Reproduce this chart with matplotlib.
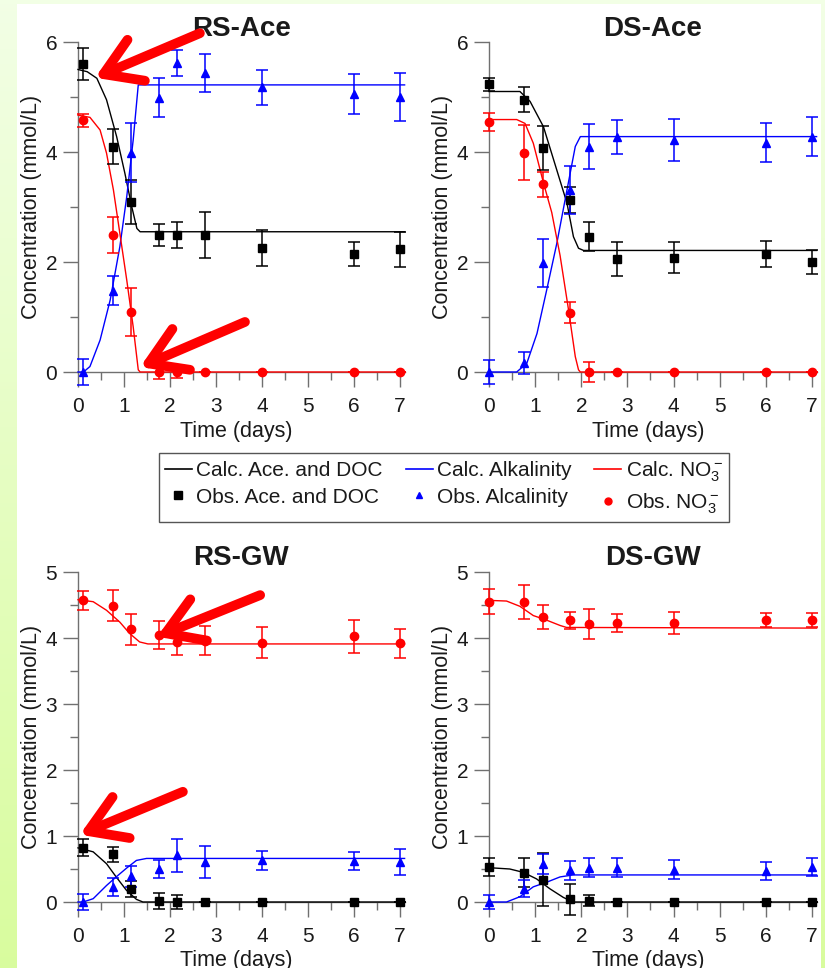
#!/usr/bin/env python3

import matplotlib
matplotlib.use('Agg')
import matplotlib.pyplot as plt
from matplotlib.lines import Line2D
from matplotlib.patches import Rectangle
from matplotlib.ticker import MultipleLocator
import numpy as np

plt.rcParams['font.family'] = ['Liberation Sans', 'DejaVu Sans']
plt.rcParams['mathtext.fontset'] = 'custom'
plt.rcParams['mathtext.rm'] = 'Liberation Sans'
plt.rcParams['mathtext.it'] = 'Liberation Sans:italic'

# ---- observed data -------------------------------------------------------
rs_t = [0.1, 0.75, 1.15, 1.75, 2.15, 2.75, 4, 6, 7]
ds_t = [0.0, 0.76, 1.17, 1.76, 2.16, 2.78, 4, 6, 7]

rs_ace_doc = [5.60, 4.10, 3.10, 2.49, 2.49, 2.49, 2.25, 2.15, 2.23]
rs_ace_doc_err = [0.29, 0.31, 0.40, 0.20, 0.24, 0.41, 0.33, 0.22, 0.32]
rs_ace_alk = [0.0, 1.48, 3.99, 4.99, 5.62, 5.44, 5.18, 5.06, 5.00]
rs_ace_alk_err = [0.24, 0.26, 0.54, 0.35, 0.24, 0.35, 0.32, 0.36, 0.44]
rs_ace_no3 = [4.58, 2.49, 1.09, 0.0, 0.0, 0.0, 0.0, 0.0, 0.0]
rs_ace_no3_err = [0.12, 0.32, 0.44, 0.13, 0.10, 0.0, 0.0, 0.0, 0.0]

ds_ace_doc = [5.23, 4.95, 4.07, 3.13, 2.46, 2.06, 2.08, 2.15, 2.00]
ds_ace_doc_err = [0.12, 0.23, 0.40, 0.24, 0.26, 0.31, 0.28, 0.24, 0.22]
ds_ace_alk = [0.0, 0.16, 1.98, 3.31, 4.10, 4.28, 4.22, 4.17, 4.28]
ds_ace_alk_err = [0.21, 0.20, 0.44, 0.44, 0.41, 0.31, 0.38, 0.35, 0.36]
ds_ace_no3 = [4.55, 3.99, 3.41, 1.08, 0.0, 0.0, 0.0, 0.0, 0.0]
ds_ace_no3_err = [0.16, 0.50, 0.23, 0.19, 0.19, 0.0, 0.0, 0.0, 0.0]

rs_gw_doc = [0.82, 0.72, 0.20, 0.01, 0.0, 0.0, 0.0, 0.0, 0.0]
rs_gw_doc_err = [0.13, 0.12, 0.12, 0.12, 0.10, 0.0, 0.0, 0.0, 0.0]
rs_gw_alk = [0.0, 0.23, 0.39, 0.50, 0.71, 0.61, 0.63, 0.62, 0.61]
rs_gw_alk_err = [0.12, 0.14, 0.16, 0.14, 0.25, 0.24, 0.14, 0.14, 0.20]
rs_gw_no3 = [4.57, 4.49, 4.13, 4.05, 3.94, 3.96, 3.93, 4.03, 3.92]
rs_gw_no3_err = [0.14, 0.23, 0.24, 0.21, 0.20, 0.22, 0.23, 0.25, 0.22]

ds_gw_doc = [0.53, 0.44, 0.34, 0.04, 0.02, 0.0, 0.0, 0.0, 0.0]
ds_gw_doc_err = [0.13, 0.22, 0.40, 0.23, 0.08, 0.0, 0.0, 0.0, 0.0]
ds_gw_alk = [0.0, 0.20, 0.58, 0.48, 0.52, 0.52, 0.49, 0.47, 0.53]
ds_gw_alk_err = [0.11, 0.13, 0.15, 0.14, 0.14, 0.14, 0.14, 0.14, 0.14]
ds_gw_no3 = [4.55, 4.55, 4.32, 4.27, 4.21, 4.23, 4.23, 4.27, 4.27]
ds_gw_no3_err = [0.19, 0.26, 0.18, 0.13, 0.23, 0.14, 0.17, 0.11, 0.11]

# ---- calculated curves ---------------------------------------------------
rs_ace_calc_doc_t = [0, 0.2, 0.41, 0.62, 0.84, 1.02, 1.17, 1.28, 1.35, 7.1]
rs_ace_calc_doc = [5.50, 5.46, 5.34, 4.95, 4.28, 3.61, 3.00, 2.61, 2.55, 2.55]
rs_ace_calc_alk_t = [0, 0.12, 0.26, 0.48, 0.70, 0.91, 1.06, 1.20, 1.31, 7.1]
rs_ace_calc_alk = [0, 0, 0.10, 0.58, 1.31, 2.28, 3.19, 4.22, 5.22, 5.22]
rs_ace_calc_no3_t = [0, 0.26, 0.48, 0.62, 0.77, 0.91, 1.06, 1.20, 1.31, 1.35, 7.1]
rs_ace_calc_no3 = [4.67, 4.63, 4.40, 3.98, 3.31, 2.52, 1.67, 0.82, 0.04, 0, 0]

ds_ace_calc_doc_t = [0, 0.67, 0.89, 1.18, 1.47, 1.69, 1.83, 1.94, 2.05, 7.1]
ds_ace_calc_doc = [5.10, 5.10, 4.92, 4.46, 3.67, 3.07, 2.46, 2.25, 2.21, 2.21]
ds_ace_calc_alk_t = [0, 0.6, 0.82, 1.04, 1.25, 1.47, 1.69, 1.87, 1.98, 7.1]
ds_ace_calc_alk = [0, 0, 0.16, 0.70, 1.49, 2.34, 3.31, 4.10, 4.28, 4.28]
ds_ace_calc_no3_t = [0, 0.6, 0.78, 0.96, 1.18, 1.36, 1.54, 1.72, 1.87, 1.94, 1.98, 7.1]
ds_ace_calc_no3 = [4.59, 4.59, 4.52, 4.16, 3.44, 2.90, 2.12, 1.15, 0.28, 0.04, 0, 0]

rs_gw_calc_doc_t = [0, 0.33, 0.62, 0.83, 1.05, 1.27, 1.41, 7.1]
rs_gw_calc_doc = [0.82, 0.76, 0.58, 0.38, 0.18, 0.04, 0, 0]
rs_gw_calc_alk_t = [0, 0.11, 0.33, 0.62, 0.83, 1.05, 1.27, 1.49, 7.1]
rs_gw_calc_alk = [0, 0, 0.05, 0.25, 0.38, 0.51, 0.63, 0.66, 0.66]
rs_gw_calc_no3_t = [0, 0.33, 0.62, 0.91, 1.12, 1.34, 1.52, 7.1]
rs_gw_calc_no3 = [4.58, 4.55, 4.42, 4.24, 4.07, 3.94, 3.91, 3.91]

ds_gw_calc_doc_t = [0, 0.45, 0.74, 1.03, 1.32, 1.61, 1.82, 7.1]
ds_gw_calc_doc = [0.52, 0.50, 0.45, 0.35, 0.20, 0.07, 0, 0]
ds_gw_calc_alk_t = [0, 0.38, 0.67, 0.96, 1.25, 1.54, 1.82, 7.1]
ds_gw_calc_alk = [0, 0, 0.08, 0.23, 0.30, 0.38, 0.41, 0.41]
ds_gw_calc_no3_t = [0, 0.38, 0.67, 0.96, 1.25, 1.54, 1.68, 7.1]
ds_gw_calc_no3 = [4.57, 4.56, 4.48, 4.34, 4.27, 4.19, 4.16, 4.15]

titles = ['RS-Ace', 'DS-Ace', 'RS-GW', 'DS-GW']
legend_labels = ['Calc. Ace. and DOC', 'Obs. Ace. and DOC',
                 'Calc. Alkalinity', 'Obs. Alcalinity',
                 'Calc. NO$_3^-$', 'Obs. NO$_3^-$']

BLACK, BLUE, RED = '#000000', '#0000ff', '#ff0000'
AXC = '#707070'
TXT = '#1a1a1a'

W, H = 825, 968
fig = plt.figure(figsize=(W / 100, H / 100), dpi=100)

# background: green gradient with a white sheet on it
bg = fig.add_axes([0, 0, 1, 1], zorder=-10)
grad = np.linspace(0, 1, 256)[:, None]
top = np.array([0.95, 1.0, 0.90])
bot = np.array([0.85, 0.99, 0.62])
img = top[None, None, :] * (1 - grad[:, :, None]) + bot[None, None, :] * grad[:, :, None]
bg.imshow(img, aspect='auto', extent=[0, 1, 0, 1], origin='upper')
bg.add_patch(Rectangle((17 / W, 0), (821 - 17) / W, 1 - 4 / H, color='white', lw=0))
bg.set_xlim(0, 1)
bg.set_ylim(0, 1)
bg.axis('off')


def px_rect(left, xscale, y0px, yscale, ylo, yhi, xhi=7.1):
    bottom_px = y0px - ylo * yscale
    top_px = y0px - yhi * yscale
    return [left / W, 1 - bottom_px / H, xhi * xscale / W, (bottom_px - top_px) / H]


panels = [
    dict(rect=px_rect(78, 46.0, 372, 55.0, -0.3, 6.0), ylim=(-0.3, 6.0), ymaj=2, ymin=1,
         t=rs_t, obs=[(rs_ace_doc, rs_ace_doc_err), (rs_ace_alk, rs_ace_alk_err), (rs_ace_no3, rs_ace_no3_err)],
         calc=[(rs_ace_calc_doc_t, rs_ace_calc_doc), (rs_ace_calc_alk_t, rs_ace_calc_alk),
               (rs_ace_calc_no3_t, rs_ace_calc_no3)], tpad=4, xl=-0.094),
    dict(rect=px_rect(489, 46.14, 372, 55.0, -0.3, 6.0), ylim=(-0.3, 6.0), ymaj=2, ymin=1,
         t=ds_t, obs=[(ds_ace_doc, ds_ace_doc_err), (ds_ace_alk, ds_ace_alk_err), (ds_ace_no3, ds_ace_no3_err)],
         calc=[(ds_ace_calc_doc_t, ds_ace_calc_doc), (ds_ace_calc_alk_t, ds_ace_calc_alk),
               (ds_ace_calc_no3_t, ds_ace_calc_no3)], tpad=4, xl=-0.094),
    dict(rect=px_rect(78, 46.0, 902, 66.0, -0.25, 5.0), ylim=(-0.25, 5.0), ymaj=1, ymin=0.5,
         t=rs_t, obs=[(rs_gw_doc, rs_gw_doc_err), (rs_gw_alk, rs_gw_alk_err), (rs_gw_no3, rs_gw_no3_err)],
         calc=[(rs_gw_calc_doc_t, rs_gw_calc_doc), (rs_gw_calc_alk_t, rs_gw_calc_alk),
               (rs_gw_calc_no3_t, rs_gw_calc_no3)], tpad=5, xl=-0.091),
    dict(rect=px_rect(489, 46.14, 902, 66.0, -0.25, 5.0), ylim=(-0.25, 5.0), ymaj=1, ymin=0.5,
         t=ds_t, obs=[(ds_gw_doc, ds_gw_doc_err), (ds_gw_alk, ds_gw_alk_err), (ds_gw_no3, ds_gw_no3_err)],
         calc=[(ds_gw_calc_doc_t, ds_gw_calc_doc), (ds_gw_calc_alk_t, ds_gw_calc_alk),
               (ds_gw_calc_no3_t, ds_gw_calc_no3)], tpad=5, xl=-0.091),
]

colors = [BLACK, BLUE, RED]
markers = ['s', '^', 'o']
msizes = [6.0, 5.5, 6.0]

axes = []
for p, title in zip(panels, titles):
    ax = fig.add_axes(p['rect'])
    ax.set_facecolor('none')
    ax.set_xlim(0, 7.1)
    ax.set_ylim(*p['ylim'])
    for (tc, yc), c in zip(p['calc'], colors):
        ax.plot(tc, yc, color=c, lw=1.0, zorder=3, clip_on=False)
    for (yo, ye), c, m, ms in zip(p['obs'], colors, markers, msizes):
        ax.errorbar(p['t'], yo, yerr=ye, fmt=m, color=c, ms=ms, elinewidth=1.1,
                    capsize=4.6, capthick=1.1, zorder=4, clip_on=False)

    for s in ('top', 'right'):
        ax.spines[s].set_visible(False)
    ax.spines['bottom'].set_position(('data', 0))
    ax.spines['bottom'].set_bounds(0, 7.1)
    ax.spines['left'].set_bounds(0, p['ylim'][1])
    for s in ('bottom', 'left'):
        ax.spines[s].set_color(AXC)
        ax.spines[s].set_linewidth(1.0)
    ax.xaxis.set_major_locator(MultipleLocator(1))
    ax.xaxis.set_minor_locator(MultipleLocator(0.5))
    ax.yaxis.set_major_locator(MultipleLocator(p['ymaj']))
    ax.yaxis.set_minor_locator(MultipleLocator(p['ymin']))
    ax.tick_params(which='major', direction='out', length=11, width=1.0, color=AXC,
                   labelsize=15, labelcolor=TXT)
    ax.tick_params(which='minor', direction='out', length=5.5, width=1.0, color=AXC)
    ax.tick_params(axis='x', which='major', pad=7)
    ax.tick_params(axis='y', which='major', pad=4)
    ax.set_xticks([0, 1, 2, 3, 4, 5, 6, 7])
    ax.set_xlabel('Time (days)', fontsize=15.5, color=TXT)
    ax.xaxis.set_label_coords(0.485, p['xl'])
    ax.set_ylabel('Concentration (mmol/L)', fontsize=15.5, color=TXT)
    ax.yaxis.set_label_coords(-0.11, 0.523)
    ax.set_title(title, fontsize=20, fontweight='bold', color=TXT, pad=p['tpad'])
    axes.append(ax)

# red pointer arrows
arrow_kw = dict(arrowstyle='->,head_length=0.8,head_width=0.5', color=RED, lw=7,
                mutation_scale=32, shrinkA=0, shrinkB=0)
axes[0].annotate('', xy=(0.37, 5.35), xytext=(2.65, 6.16), arrowprops=arrow_kw,
                 annotation_clip=False, zorder=10)
axes[0].annotate('', xy=(1.35, 0.09), xytext=(3.63, 0.91), arrowprops=arrow_kw,
                 annotation_clip=False, zorder=10)
axes[2].annotate('', xy=(1.72, 4.02), xytext=(3.96, 4.65), arrowprops=arrow_kw,
                 annotation_clip=False, zorder=10)
axes[2].annotate('', xy=(0.04, 1.02), xytext=(2.28, 1.67), arrowprops=arrow_kw,
                 annotation_clip=False, zorder=10)

# shared legend between the rows
handles = [
    Line2D([], [], color=BLACK, lw=1.2),
    Line2D([], [], color=BLACK, marker='s', ls='none', ms=5.5),
    Line2D([], [], color=BLUE, lw=1.2),
    Line2D([], [], color=BLUE, marker='^', ls='none', ms=5),
    Line2D([], [], color=RED, lw=1.2),
    Line2D([], [], color=RED, marker='o', ls='none', ms=5),
]
leg = fig.legend(handles, legend_labels, ncol=3, loc='center',
                 bbox_to_anchor=(0.538, 0.4964), fontsize=15, frameon=True,
                 fancybox=False, edgecolor='#555555', framealpha=1,
                 handlelength=1.3, handletextpad=0.2, columnspacing=1.1,
                 labelspacing=0.36, borderpad=0.3, borderaxespad=0)
leg.get_frame().set_linewidth(1.0)
for t in leg.get_texts():
    t.set_color(TXT)

fig.savefig('out.png', dpi=100)
